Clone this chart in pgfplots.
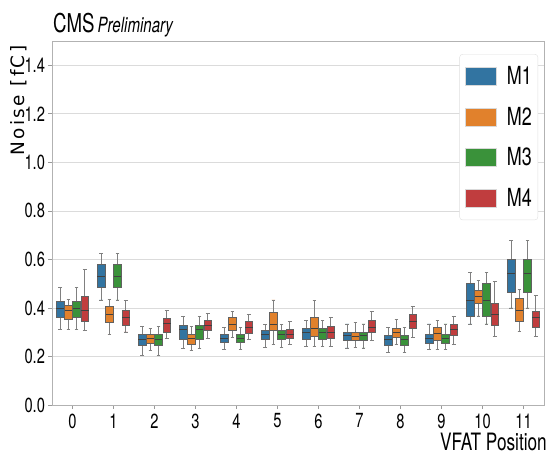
\documentclass[border=0pt]{standalone}
\usepackage{fontspec}
\setmainfont{TeX Gyre Heros}[FakeStretch=0.72]
\newfontfamily\labfont{DejaVu Sans}[LetterSpace=13]
\usepackage{pgfplots}
\usepackage{pgfplotstable}
\usepgfplotslibrary{statistics}
\pgfplotsset{compat=1.18}

\definecolor{cMone}{HTML}{3274A1}
\definecolor{cMtwo}{HTML}{E1812C}
\definecolor{cMthree}{HTML}{3A923A}
\definecolor{cMfour}{HTML}{C03D3E}

% pos lw lq med uq uw, one table per module
\pgfplotstableread{
pos lw lq med uq uw
0 0.312 0.359 0.400 0.426 0.486
1 0.433 0.486 0.532 0.579 0.626
2 0.203 0.244 0.272 0.292 0.323
3 0.232 0.272 0.310 0.326 0.364
4 0.229 0.258 0.276 0.292 0.320
5 0.237 0.269 0.290 0.306 0.332
6 0.240 0.272 0.298 0.317 0.348
7 0.235 0.265 0.286 0.301 0.334
8 0.215 0.244 0.269 0.286 0.320
9 0.229 0.254 0.276 0.292 0.334
10 0.334 0.367 0.430 0.501 0.548
11 0.400 0.462 0.541 0.600 0.679
}\mone
\pgfplotstableread{
pos lw lq med uq uw
0 0.313 0.353 0.389 0.412 0.435
1 0.291 0.341 0.375 0.407 0.436
2 0.225 0.254 0.276 0.292 0.317
3 0.224 0.251 0.276 0.291 0.323
4 0.279 0.306 0.334 0.359 0.385
5 0.250 0.306 0.331 0.383 0.433
6 0.240 0.281 0.317 0.361 0.430
7 0.236 0.265 0.283 0.301 0.339
8 0.249 0.279 0.298 0.317 0.352
9 0.229 0.265 0.295 0.320 0.348
10 0.367 0.417 0.447 0.472 0.513
11 0.302 0.344 0.389 0.440 0.476
}\mtwo
\pgfplotstableread{
pos lw lq med uq uw
0 0.312 0.359 0.400 0.426 0.486
1 0.433 0.486 0.532 0.579 0.626
2 0.203 0.244 0.272 0.292 0.323
3 0.232 0.272 0.310 0.326 0.364
4 0.229 0.258 0.276 0.292 0.320
5 0.237 0.269 0.290 0.306 0.332
6 0.240 0.272 0.298 0.317 0.348
7 0.235 0.265 0.286 0.301 0.334
8 0.215 0.244 0.269 0.286 0.320
9 0.229 0.254 0.276 0.292 0.334
10 0.334 0.367 0.430 0.501 0.548
11 0.400 0.462 0.541 0.600 0.679
}\mthree
\pgfplotstableread{
pos lw lq med uq uw
0 0.306 0.345 0.389 0.447 0.560
1 0.301 0.327 0.359 0.388 0.429
2 0.276 0.300 0.337 0.356 0.389
3 0.273 0.306 0.327 0.348 0.378
4 0.270 0.295 0.320 0.343 0.374
5 0.250 0.276 0.292 0.313 0.343
6 0.241 0.276 0.298 0.323 0.361
7 0.265 0.298 0.320 0.348 0.385
8 0.279 0.317 0.343 0.373 0.406
9 0.249 0.286 0.312 0.334 0.366
10 0.281 0.330 0.375 0.419 0.510
11 0.281 0.320 0.359 0.386 0.450
}\mfour

% one module: table, colour, offset from the category (with sign)
\newcommand{\boxseries}[3]{%
  \pgfplotsinvokeforeach{0,...,11}{%
    \pgfplotstablegetelem{##1}{lw}\of#1\let\vlw\pgfplotsretval
    \pgfplotstablegetelem{##1}{lq}\of#1\let\vlq\pgfplotsretval
    \pgfplotstablegetelem{##1}{med}\of#1\let\vmed\pgfplotsretval
    \pgfplotstablegetelem{##1}{uq}\of#1\let\vuq\pgfplotsretval
    \pgfplotstablegetelem{##1}{uw}\of#1\let\vuw\pgfplotsretval
    \edef\doplot{\noexpand\addplot[boxplot/draw direction=y,
      boxplot prepared={draw position=##1#3,
        lower whisker=\vlw, lower quartile=\vlq, median=\vmed,
        upper quartile=\vuq, upper whisker=\vuw,
        box extend=0.185, whisker extend=0.09},
      fill=#2, draw=black!62, line width=0.8bp, forget plot] coordinates {};}%
    \doplot
  }%
}

\begin{document}
\begin{tikzpicture}
\begin{axis}[
  at={(0,0)}, anchor=south west,
  scale only axis, width=492bp, height=364bp,
  xmin=-0.5, xmax=11.5, ymin=0, ymax=1.5,
  xtick={0,...,11},
  ytick={0,0.2,...,1.4},
  yticklabel style={/pgf/number format/.cd, fixed, fixed zerofill, precision=1},
  xticklabel style={yshift=-1.5bp},
  /pgf/number format/assume math mode=true,
  ticklabel style={font=\fontsize{20.5}{20.5}\selectfont},
  tick align=outside, major tick length=3.5bp,
  xtick pos=bottom, ytick pos=left,
  tick style={black!40, line width=0.6bp},
  axis line style={black!30, line width=0.8bp},
  ymajorgrids, major grid style={black!14, line width=0.7bp},
  boxplot/every whisker/.style={draw=black!50},
  boxplot/every median/.style={draw=black!75},
  legend style={at={(rel axis cs:0.988,0.964)}, anchor=north east,
    draw=black!12, rounded corners=3bp, fill=white,
    font=\fontsize{25}{25}\selectfont,
    inner xsep=5bp, inner ysep=11bp, row sep=19bp, column sep=0bp,
    nodes={inner sep=1bp}},
  legend cell align=left,
  legend image code/.code={\draw[#1, sharp corners] (0bp,-9bp) rectangle (31bp,9bp);},
]
\boxseries{\mone}{cMone}{-0.3}
\boxseries{\mtwo}{cMtwo}{-0.1}
\boxseries{\mthree}{cMthree}{+0.1}
\boxseries{\mfour}{cMfour}{+0.3}

\addlegendimage{fill=cMone, draw=black!15}
\addlegendentry{\hspace{10bp}M1}
\addlegendimage{fill=cMtwo, draw=black!15}
\addlegendentry{\hspace{10bp}M2}
\addlegendimage{fill=cMthree, draw=black!15}
\addlegendentry{\hspace{10bp}M3}
\addlegendimage{fill=cMfour, draw=black!15}
\addlegendentry{\hspace{10bp}M4}
\end{axis}
% axis box runs from (0,0) to (492bp,364bp)
\node[anchor=base west, inner sep=0pt] at (1bp,372bp)
  {\fontsize{26}{26}\selectfont CMS\hspace{3bp}\fontsize{21}{21}\selectfont\itshape Preliminary};
\node[anchor=base east, inner sep=0pt] at (495bp,-45bp)
  {\fontsize{24}{24}\selectfont VFAT Position};
\node[rotate=90, inner sep=0pt] at (-33.5bp,304.5bp)
  {\labfont\fontsize{18.5}{18.5}\selectfont Noise [fC]};
\pgfresetboundingbox
\path (-52bp,-51bp) rectangle (496bp,405bp);
\end{tikzpicture}
\end{document}
